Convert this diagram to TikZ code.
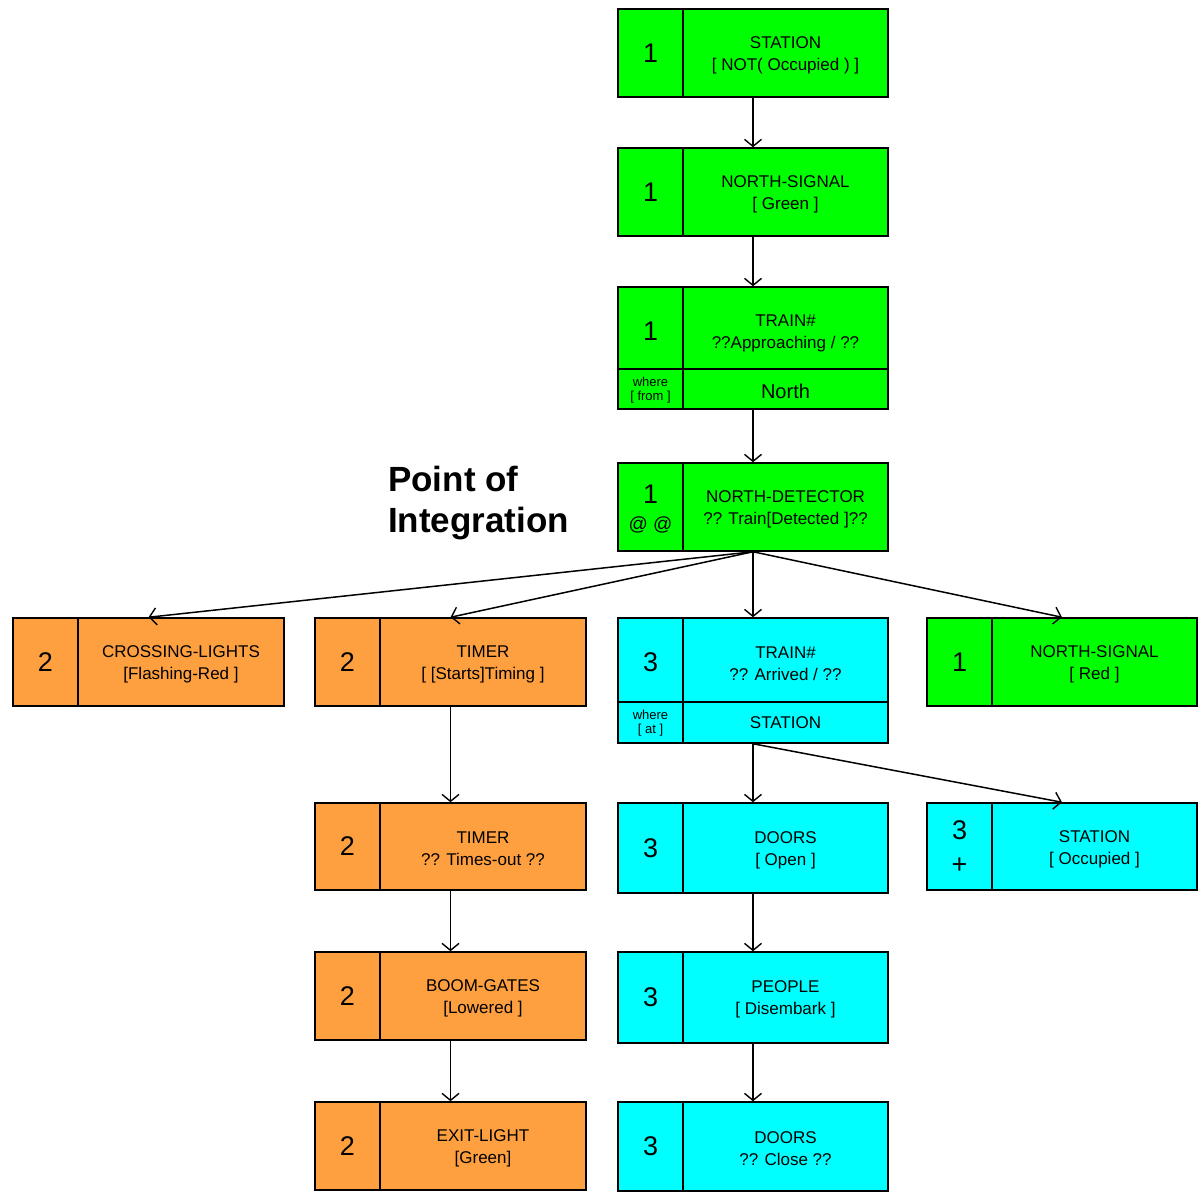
\documentclass[tikz,border=0pt]{standalone}
\usepackage{fontspec}
\setmainfont{Liberation Sans}
\usetikzlibrary{arrows.meta}
\definecolor{grn}{HTML}{00FF00}
\definecolor{org}{HTML}{FFA040}
\definecolor{cyn}{HTML}{00FFFF}
\tikzset{
  boxshape/.style={draw, line width=1.5pt, inner sep=0pt, fill=#1},
  divline/.style={line width=1.5pt},
  txt/.style={align=center, inner sep=0pt, font=\fontsize{17}{22}\selectfont},
  numtxt/.style={align=center, inner sep=0pt, font=\fontsize{27}{30}\selectfont},
  smalltxt/.style={align=center, inner sep=0pt, font=\fontsize{13}{14}\selectfont},
  conn/.style={line width=1.5pt, -{Straight Barb[length=7pt,width=17pt,line width=1.4pt]}},
}
% #1 name, #2 x1, #3 y1, #4 x2, #5 y2, #6 colour
\newcommand\myframe[6]{%
  \node[boxshape=#6, minimum width={(#4-#2)*1pt}, minimum height={(#5-#3)*1pt}] (#1) at ({(#2+#4)/2},{(#3+#5)/2}) {};
  \draw[divline] ({#2+65},#3) -- ({#2+65},#5);
}
% standard box: #7 number, #8 text
\newcommand\stdbox[8]{%
  \myframe{#1}{#2}{#3}{#4}{#5}{#6}
  \node[numtxt] (#1-n) at ({#2+32.5},{(#3+#5)/2}) {#7};
  \node[txt] (#1-t) at ({(#2+65+#4)/2},{(#3+#5)/2+2}) {#8};
}
\begin{document}
\begin{tikzpicture}[x=1pt,y=-1pt]
\useasboundingbox (0,0) rectangle (1198,1194);

% column of green boxes
\stdbox{st1}{618}{9}{888}{97}{grn}{1}{STATION\\{[} NOT( Occupied ) ]}
\stdbox{ns1}{618}{148}{888}{236}{grn}{1}{NORTH-SIGNAL\\{[} Green ]}

% TRAIN approaching
\myframe{tr1}{618}{287}{888}{409}{grn}
\draw[divline] (618,369) -- (888,369);
\node[numtxt] (tr1-n) at (650.5,331) {1};
\node[txt] (tr1-t) at (785.5,333) {TRAIN\#\\??Approaching / ??};
\node[smalltxt] (tr1-w) at (650.5,390) {where\\{[} from ]};
\node[txt, font=\fontsize{20}{24}\selectfont] (tr1-l) at (785.5,391) {North};

% NORTH-DETECTOR
\myframe{nd}{618}{463}{888}{551}{grn}
\node[numtxt] (nd-n) at (650.5,494) {1};
\node[txt, font=\fontsize{19}{22}\selectfont] (nd-a) at (650.5,525) {@ @};
\node[txt] (nd-t) at (785.5,509) {NORTH-DETECTOR\\?? Train[Detected ]??};

\node[anchor=west, align=left, inner sep=0pt, font=\fontsize{35}{41}\selectfont\bfseries] (poi) at (388,503) {Point of\\Integration};

% second row
\stdbox{cl}{13}{618}{284}{706}{org}{2}{CROSSING-LIGHTS\\{[}Flashing-Red ]}
\stdbox{tm1}{315}{618}{586}{706}{org}{2}{TIMER\\{[} [Starts]Timing ]}
\myframe{tr2}{618}{618}{888}{743}{cyn}
\draw[divline] (618,702) -- (888,702);
\node[numtxt] (tr2-n) at (650.5,662) {3};
\node[txt] (tr2-t) at (785.5,664) {TRAIN\#\\?? Arrived / ??};
\node[smalltxt] (tr2-w) at (650.5,723) {where\\{[} at ]};
\node[txt] (tr2-l) at (785.5,723) {STATION};
\stdbox{ns2}{927}{618}{1197}{706}{grn}{1}{NORTH-SIGNAL\\{[}  Red  ]}

% third row
\stdbox{tm2}{315}{803}{586}{890}{org}{2}{TIMER\\?? Times-out  ??}
\stdbox{dr1}{618}{803}{888}{893}{cyn}{3}{DOORS\\{[} Open ]}
\myframe{st2}{927}{803}{1197}{890}{cyn}
\node[numtxt] (st2-n) at (959.5,830) {3};
\node[txt, font=\fontsize{27}{27}\selectfont] (st2-p) at (959.5,866) {+};
\node[txt] (st2-t) at (1094.5,849) {STATION\\{[} Occupied ]};

% fourth row
\stdbox{bg}{315}{952}{586}{1040}{org}{2}{BOOM-GATES\\{[}Lowered ]}
\stdbox{pp}{618}{952}{888}{1043}{cyn}{3}{PEOPLE\\{[} Disembark ]}

% fifth row
\stdbox{el}{315}{1102}{586}{1190}{org}{2}{EXIT-LIGHT\\{[}Green]}
\stdbox{dr2}{618}{1102}{888}{1191}{cyn}{3}{DOORS\\?? Close ??}

% connectors
\draw[conn] (st1.south) -- (ns1.north);
\draw[conn] (ns1.south) -- (tr1.north);
\draw[conn] (tr1.south) -- (nd.north);
\draw[conn] (nd.south) -- (cl.north);
\draw[conn] (nd.south) -- (tm1.north);
\draw[conn] (nd.south) -- (tr2.north);
\draw[conn] (nd.south) -- (ns2.north);
\draw[conn] (tm1.south) -- (tm2.north);
\draw[conn] (tm2.south) -- (bg.north);
\draw[conn] (bg.south) -- (el.north);
\draw[conn] (tr2.south) -- (dr1.north);
\draw[conn] (tr2.south) -- (st2.north);
\draw[conn] (dr1.south) -- (pp.north);
\draw[conn] (pp.south) -- (dr2.north);
\end{tikzpicture}
\end{document}
